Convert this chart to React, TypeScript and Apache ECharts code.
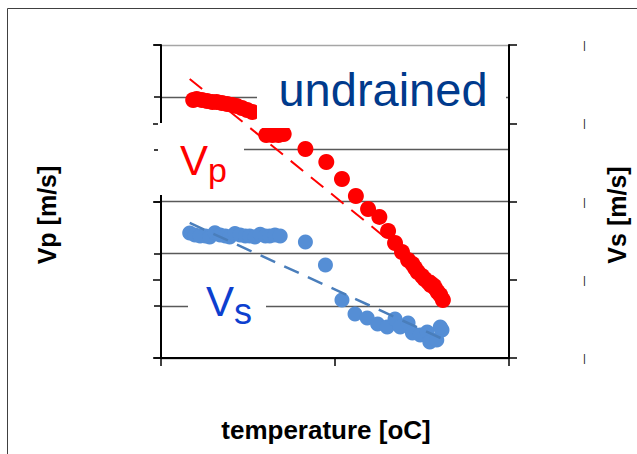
import React, { useEffect, useRef } from "react";
import * as echarts from "echarts";

// temperature [oC] (x) and Vp [m/s] (left axis)
const vpTemp = [3.7, 4.1, 4.7, 5.3, 5.9, 6.4, 7.0, 7.6, 8.2, 8.7, 9.3, 9.9, 10.5, 12.1, 12.8, 13.5, 14.1, 16.6, 19.0, 20.8, 22.4, 23.8, 25.1, 26.1, 26.9, 27.7, 28.4, 28.9, 29.2, 29.5, 30.0, 30.3, 30.7, 31.0, 31.5, 31.8, 32.1, 32.4];
const vpValue = [2473, 2483, 2473, 2463, 2454, 2454, 2444, 2435, 2425, 2415, 2396, 2377, 2358, 2137, 2137, 2137, 2147, 2003, 1879, 1716, 1553, 1428, 1352, 1217, 1102, 1016, 939, 901, 863, 824, 786, 757, 728, 700, 671, 633, 604, 556];

// temperature [oC] (x) and Vs [m/s] (right axis)
const vsTemp = [3.3, 3.9, 4.5, 5.1, 5.6, 6.2, 6.8, 7.4, 7.9, 8.5, 9.1, 9.7, 10.2, 10.8, 11.4, 12.0, 12.5, 13.1, 13.7, 16.6, 18.9, 20.8, 22.3, 23.7, 24.9, 26.0, 26.9, 27.5, 28.4, 28.9, 29.8, 30.6, 30.9, 31.7, 32.3, 32.1];
const vsValue = [799, 786, 780, 780, 773, 800, 786, 780, 773, 795, 786, 780, 780, 773, 790, 780, 780, 786, 780, 741, 594, 371, 281, 256, 217, 198, 249, 198, 224, 160, 147, 166, 102, 115, 179, 198];

// dashed trend lines
const vpTrendTemp = [3.3, 32.1];
const vpTrendValue = [2674, 728];
const vsTrendTemp = [3.3, 32.4];
const vsTrendValue = [863, 121];

// axis ranges
const tempRange = [0, 40, 20];
const vpRange = [0, 3000, 500];
const vsRange = [0, 2000, 500];

const zip = (a: number[], b: number[]) => a.map((v, i) => [v, b[i]]);

export default function App() {
  const ref = useRef<HTMLDivElement>(null);
  useEffect(() => {
    document.body.style.margin = "0";
    const chart = echarts.init(ref.current!, undefined, { renderer: "svg" });
    const Z = 100;
    chart.setOption({
      animation: false,
      backgroundColor: "#ffffff",
      grid: { left: 161, right: 128, top: 45, bottom: 96 },
      xAxis: {
        type: "value",
        min: tempRange[0],
        max: tempRange[1],
        interval: tempRange[2],
        axisLine: { show: true, lineStyle: { color: "#000", width: 2 } },
        axisTick: { show: true, length: 8, lineStyle: { color: "#000", width: 1.5 } },
        axisLabel: { show: false },
        splitLine: { show: false },
      },
      yAxis: [
        {
          type: "value",
          position: "left",
          min: vpRange[0],
          max: vpRange[1],
          interval: vpRange[2],
          axisLine: { show: true, onZero: false, lineStyle: { color: "#000", width: 2 } },
          axisTick: { show: true, length: 7, lineStyle: { color: "#000", width: 1.5 } },
          axisLabel: { show: false },
          splitLine: {
            show: true,
            lineStyle: {
              color: ["#595959", "#595959", "#595959", "#595959", "#595959", "#595959", "#a6a6a6"],
              width: 1.3,
            },
          },
        },
        {
          type: "value",
          position: "right",
          min: vsRange[0],
          max: vsRange[1],
          interval: vsRange[2],
          axisLine: { show: true, onZero: false, lineStyle: { color: "#000", width: 2 } },
          axisTick: { show: true, length: 8, lineStyle: { color: "#000", width: 1.5 } },
          axisLabel: {
            show: true,
            formatter: () => "|",
            color: "#222",
            fontSize: 11,
            fontFamily: "Liberation Sans",
            margin: 74,
          },
          splitLine: { show: false },
        },
        {
          type: "value",
          position: "right",
          min: vsRange[0],
          max: vsRange[1],
          interval: vsRange[2],
          axisLine: { show: false },
          axisTick: { show: true, inside: true, length: 8, lineStyle: { color: "#000", width: 1.5 } },
          axisLabel: { show: false },
          splitLine: { show: false },
        },
      ],
      series: [
        {
          type: "scatter",
          yAxisIndex: 0,
          symbolSize: 16,
          itemStyle: { color: "#ff0000", opacity: 1 },
          data: zip(vpTemp, vpValue),
          z: 2,
        },
        {
          type: "scatter",
          yAxisIndex: 1,
          symbolSize: 15,
          itemStyle: { color: "#558ed5", opacity: 1 },
          data: zip(vsTemp, vsValue),
          z: 2,
        },
        {
          type: "line",
          yAxisIndex: 0,
          symbol: "none",
          lineStyle: { color: "#ff0000", width: 2, type: [16, 10] },
          data: zip(vpTrendTemp, vpTrendValue),
          z: 3,
        },
        {
          type: "line",
          yAxisIndex: 1,
          symbol: "none",
          lineStyle: { color: "#4a7ebb", width: 2.5, type: [16, 10] },
          data: zip(vsTrendTemp, vsTrendValue),
          z: 3,
        },
      ],
      graphic: [
        {
          type: "rect",
          z: Z,
          shape: { x: 7.5, y: 8.5, width: 700, height: 500 },
          style: { fill: "none", stroke: "#404040", lineWidth: 1 },
        },
        {
          type: "rect",
          z: Z,
          shape: { x: 257, y: 58, width: 249, height: 70 },
          style: { fill: "#ffffff" },
        },
        {
          type: "text",
          z: Z + 1,
          x: 383,
          y: 89.7,
          style: {
            text: "undrained",
            fill: "#003a8c",
            font: "47px 'Liberation Sans', Arial, sans-serif",
            align: "center",
            verticalAlign: "middle",
          },
        },
        {
          type: "rect",
          z: Z,
          shape: { x: 158, y: 123, width: 86, height: 72 },
          style: { fill: "#ffffff" },
        },
        {
          type: "text",
          z: Z + 1,
          x: 180,
          y: 160.4,
          style: {
            text: "V",
            fill: "#ff0000",
            font: "42px 'Liberation Sans', Arial, sans-serif",
            align: "left",
            verticalAlign: "middle",
          },
        },
        {
          type: "text",
          z: Z + 1,
          x: 208,
          y: 170,
          style: {
            text: "p",
            fill: "#ff0000",
            font: "34px 'Liberation Sans', Arial, sans-serif",
            align: "left",
            verticalAlign: "middle",
          },
        },
        {
          type: "rect",
          z: Z,
          shape: { x: 188, y: 272, width: 78, height: 60 },
          style: { fill: "#ffffff" },
        },
        {
          type: "text",
          z: Z + 1,
          x: 206,
          y: 301.4,
          style: {
            text: "V",
            fill: "#0d3fcf",
            font: "42px 'Liberation Sans', Arial, sans-serif",
            align: "left",
            verticalAlign: "middle",
          },
        },
        {
          type: "text",
          z: Z + 1,
          x: 234,
          y: 311.8,
          style: {
            text: "s",
            fill: "#0d3fcf",
            font: "36px 'Liberation Sans', Arial, sans-serif",
            align: "left",
            verticalAlign: "middle",
          },
        },
        {
          type: "text",
          z: Z + 1,
          x: 47,
          y: 215,
          rotation: Math.PI / 2,
          style: {
            text: "Vp [m/s]",
            fill: "#000",
            font: "bold 25px 'Liberation Sans', Arial, sans-serif",
            align: "center",
            verticalAlign: "middle",
          },
        },
        {
          type: "text",
          z: Z + 1,
          x: 617,
          y: 215,
          rotation: Math.PI / 2,
          style: {
            text: "Vs [m/s]",
            fill: "#000",
            font: "bold 25px 'Liberation Sans', Arial, sans-serif",
            align: "center",
            verticalAlign: "middle",
          },
        },
        {
          type: "text",
          z: Z + 1,
          x: 326,
          y: 430,
          style: {
            text: "temperature [oC]",
            fill: "#000",
            font: "bold 26px 'Liberation Sans', Arial, sans-serif",
            align: "center",
            verticalAlign: "middle",
          },
        },
      ],
    });
    return () => chart.dispose();
  }, []);
  return <div ref={ref} style={{ width: 637, height: 454 }} />;
}
